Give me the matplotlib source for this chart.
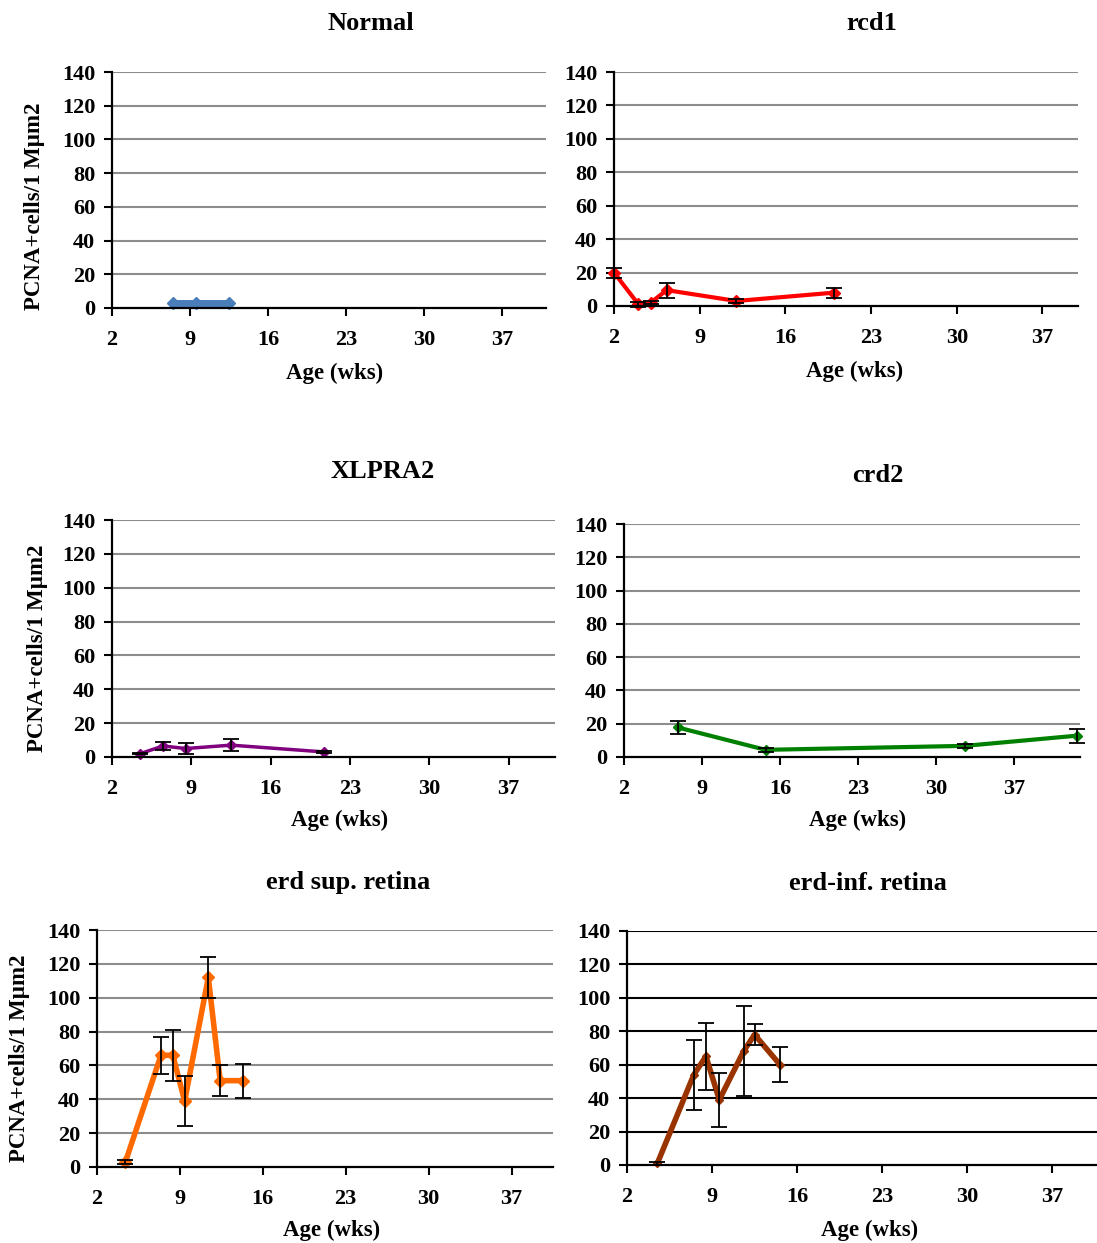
import matplotlib
matplotlib.use("Agg")
import matplotlib.pyplot as plt

plt.rcParams['font.family'] = ['Liberation Serif', 'DejaVu Serif']
plt.rcParams['font.weight'] = 'bold'

# ---- data ----
normal_x = [7.5, 9.5, 12.5]
normal_y = [3, 3, 3]

rcd1_x = [2, 4, 5, 6.3, 12, 20]
rcd1_y = [20, 1, 2, 9.5, 3, 8]
rcd1_err = [3, 1.5, 1, 4.5, 1, 3]

xlpra2_x = [4.5, 6.5, 8.5, 12.5, 20.7]
xlpra2_y = [2, 6.5, 5, 7, 3]
xlpra2_err = [0.5, 2.5, 3, 3.5, 0.5]

crd2_x = [6.8, 14.7, 32.6, 42.6]
crd2_y = [17.8, 4.3, 6.7, 12.8]
crd2_err = [3.7, 1, 1, 4.2]

erdsup_x = [4.4, 7.4, 8.4, 9.4, 11.4, 12.4, 14.3]
erdsup_y = [3, 66, 66, 39, 112, 51, 51]
erdsup_err = [1, 11, 15, 15, 12, 9, 10]

erdinf_x = [4.5, 7.5, 8.5, 9.6, 11.6, 12.5, 14.6]
erdinf_y = [1, 54, 65, 39, 68, 78, 60]
erdinf_err = [1, 21, 20, 16, 27, 6.5, 10.5]

xticks = [2, 9, 16, 23, 30, 37]
yticks = [0, 20, 40, 60, 80, 100, 120, 140]
ylabel = "PCNA+cells/1 M\u00b5m2"
xlabel = "Age (wks)"

W, H = 1097, 1243
fig = plt.figure(figsize=(W / 100, H / 100), dpi=100)


def rect(l, r, t, b):
    return [l / W, 1 - b / H, (r - l) / W, (b - t) / H]


panels = [
    dict(title="Normal", rect=rect(112, 546, 72, 308), x=normal_x, y=normal_y, err=None,
         color="#4A7EBB", lw=5, ms=6, marker="D", xmax=40.9, grid="#8c8c8c", ylab=(35, 206),
         title_xy=(371, 23), xlab_xy=(335, 373)),
    dict(title="rcd1", rect=rect(614, 1078, 72, 306), x=rcd1_x, y=rcd1_y, err=rcd1_err,
         color="#FF0000", lw=3, ms=6, marker="D", xmax=39.9, grid="#8c8c8c", ylab=None,
         title_xy=(872, 23), xlab_xy=(855, 371)),
    dict(title="XLPRA2", rect=rect(112, 555, 520, 757), x=xlpra2_x, y=xlpra2_y, err=xlpra2_err,
         color="#800080", lw=2.5, ms=5, marker="D", xmax=41.1, grid="#8c8c8c", ylab=(38, 648),
         title_xy=(383, 472), xlab_xy=(340, 820)),
    dict(title="crd2", rect=rect(624, 1080, 524, 757), x=crd2_x, y=crd2_y, err=crd2_err,
         color="#008000", lw=3, ms=5, marker="D", xmax=42.9, grid="#8c8c8c", ylab=None,
         title_xy=(878, 476), xlab_xy=(858, 820)),
    dict(title="erd sup. retina", rect=rect(97, 553, 930, 1167), x=erdsup_x, y=erdsup_y, err=erdsup_err,
         color="#FF6A00", lw=4, ms=6, marker="D", xmax=40.5, grid="#8c8c8c", ylab=(20, 1058),
         title_xy=(348, 882), xlab_xy=(332, 1230)),
    dict(title="erd-inf. retina", rect=rect(627, 1097, 931, 1165), x=erdinf_x, y=erdinf_y, err=erdinf_err,
         color="#993300", lw=4, ms=4, marker="D", xmax=40.7, grid="#000000", ylab=None,
         title_xy=(868, 884), xlab_xy=(870, 1230)),
]

for p in panels:
    ax = fig.add_axes(p["rect"])
    ax.set_xlim(2, p["xmax"])
    ax.set_ylim(0, 140)
    ax.set_xticks(xticks)
    ax.set_yticks(yticks)
    ax.tick_params(axis='both', labelsize=16, length=6, width=1.5, direction='out', color='black')
    ax.tick_params(axis='x', pad=10)
    ax.tick_params(axis='y', pad=6)
    for lab in ax.get_xticklabels() + ax.get_yticklabels():
        lab.set_fontweight('bold')
    for s in ['top', 'right']:
        ax.spines[s].set_visible(False)
    for s in ['left', 'bottom']:
        ax.spines[s].set_linewidth(1.6)
        ax.spines[s].set_color('black')
        ax.spines[s].set_zorder(5)
    for yv in yticks[1:]:
        ax.axhline(yv, color=p["grid"], lw=1.5, zorder=0)
    ax.plot(p["x"], p["y"], color=p["color"], lw=p["lw"], marker=p["marker"],
            ms=p["ms"], mfc=p["color"], mec=p["color"], zorder=3, clip_on=False,
            solid_capstyle='round', solid_joinstyle='round')
    if p["err"] is not None:
        ax.errorbar(p["x"], p["y"], yerr=p["err"], fmt='none', ecolor='black',
                    elinewidth=1.3, capsize=6, capthick=1.3, zorder=4, clip_on=False)
    fig.text(p["title_xy"][0] / W, 1 - p["title_xy"][1] / H, p["title"],
             ha='center', va='center', fontsize=19, fontweight='bold')
    fig.text(p["xlab_xy"][0] / W, 1 - p["xlab_xy"][1] / H, xlabel,
             ha='center', va='center', fontsize=16.5, fontweight='bold')
    if p["ylab"] is not None:
        fig.text(p["ylab"][0] / W, 1 - p["ylab"][1] / H, ylabel, rotation=90,
                 ha='center', va='center', fontsize=16.5, fontweight='bold')

fig.savefig("out.png", dpi=100)
